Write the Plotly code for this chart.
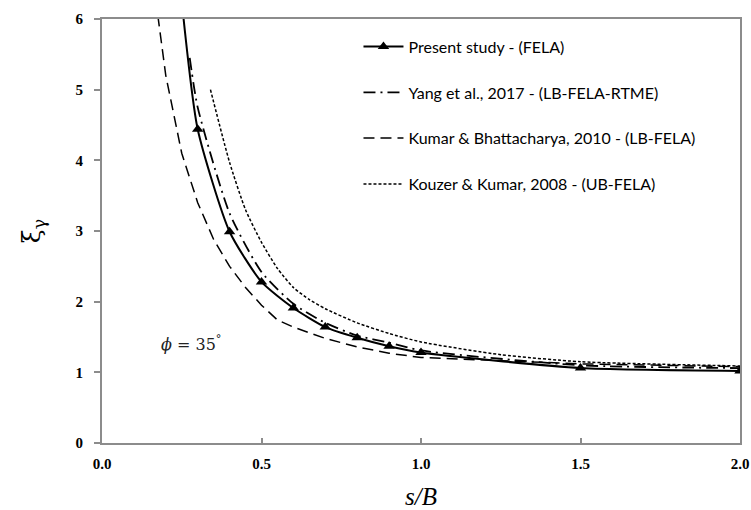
import plotly.graph_objects as go

# s/B spacing ratio vs. efficiency factor xi_gamma, phi = 35 deg
present_x = [0.25, 0.3, 0.4, 0.5, 0.6, 0.7, 0.8, 0.9, 1.0, 1.5, 2.0]
present_y = [6.25, 4.44, 2.99, 2.28, 1.91, 1.64, 1.49, 1.37, 1.28, 1.06, 1.02]

yang_x = [0.275, 0.3, 0.4, 0.5, 0.6, 0.7, 0.8, 0.9, 1.0, 1.5, 2.0]
yang_y = [5.45, 4.75, 3.25, 2.42, 1.97, 1.70, 1.52, 1.42, 1.31, 1.10, 1.06]

kumar_x = [0.175, 0.2, 0.25, 0.3, 0.35, 0.4, 0.45, 0.5, 0.55, 0.6, 0.7, 0.8, 0.9, 1.0, 1.5, 2.0]
kumar_y = [6.05, 5.2, 4.1, 3.4, 2.88, 2.5, 2.2, 1.95, 1.74, 1.64, 1.48, 1.36, 1.27, 1.21, 1.12, 1.08]

kouzer_x = [0.34, 0.4, 0.45, 0.5, 0.55, 0.6, 0.65, 0.7, 0.8, 0.9, 1.0, 1.25, 1.5, 2.0]
kouzer_y = [5.0, 3.97, 3.3, 2.84, 2.47, 2.2, 2.03, 1.9, 1.7, 1.55, 1.43, 1.25, 1.15, 1.09]

legend_names = [
    "Present study - (FELA)",
    "Yang et al., 2017 - (LB-FELA-RTME)",
    "Kumar & Bhattacharya, 2010 - (LB-FELA)",
    "Kouzer & Kumar, 2008 - (UB-FELA)",
]

x_ticks = [0.0, 0.5, 1.0, 1.5, 2.0]
y_ticks = [0, 1, 2, 3, 4, 5, 6]

fig = go.Figure()

fig.add_trace(go.Scatter(
    x=present_x, y=present_y, name=legend_names[0], legendgroup="a",
    mode="lines+markers",
    line=dict(color="black", width=2, shape="spline", smoothing=0.6),
    marker=dict(symbol="triangle-up", size=10, color="black"),
))
fig.add_trace(go.Scatter(
    x=yang_x, y=yang_y, name=legend_names[1], legendgroup="b",
    mode="lines",
    line=dict(color="black", width=1.8, shape="spline", smoothing=0.6,
              dash="12px,5px,2px,5px"),
))
fig.add_trace(go.Scatter(
    x=kumar_x, y=kumar_y, name=legend_names[2], legendgroup="c",
    mode="lines",
    line=dict(color="black", width=1.5, dash="11px,6px"),
))
fig.add_trace(go.Scatter(
    x=kouzer_x, y=kouzer_y, name=legend_names[3], legendgroup="d",
    mode="lines",
    line=dict(color="black", width=1.5, shape="spline", smoothing=0.6,
              dash="3px,2px"),
))

fig.add_annotation(
    x=0.28, y=1.41, xref="x", yref="y",
    text="<i>ϕ</i> = 35<sup>°</sup>", showarrow=False,
    font=dict(family="DejaVu Serif", size=16, color="#222"),
)

axis_common = dict(
    showgrid=False, zeroline=False, showline=True, mirror=True,
    automargin=False,
    linecolor="#8c8c8c", linewidth=2, tickcolor="#8c8c8c",
    tickwidth=1.5,
    tickfont=dict(family="Liberation Serif", size=15, color="black", weight="bold"),
)

fig.update_xaxes(
    range=[0, 2], tickvals=x_ticks, tickformat=".1f", ticks="inside", ticklen=5,
    ticklabelstandoff=6,
    title=dict(text="<i>s/B</i>", font=dict(family="Liberation Serif", size=25, color="black"),
               standoff=18),
    **axis_common,
)
fig.update_yaxes(
    range=[0, 6], tickvals=y_ticks, ticks="outside", ticklen=6,
    ticklabelstandoff=8,
    title=dict(text="ξ<sub>γ</sub>", font=dict(family="DejaVu Serif", size=25, color="black"),
               standoff=28),
    **axis_common,
)

fig.update_layout(
    width=751, height=510,
    margin=dict(l=102, r=11, t=19, b=67),
    plot_bgcolor="white", paper_bgcolor="white",
    showlegend=True,
    legend=dict(
        x=0.402, y=0.975, xanchor="left", yanchor="top",
        bgcolor="rgba(255,255,255,0)",
        font=dict(family="Lato", size=16, color="black"),
        traceorder="grouped", tracegroupgap=22, itemwidth=40,
    ),
)

fig.write_html("out.html")
